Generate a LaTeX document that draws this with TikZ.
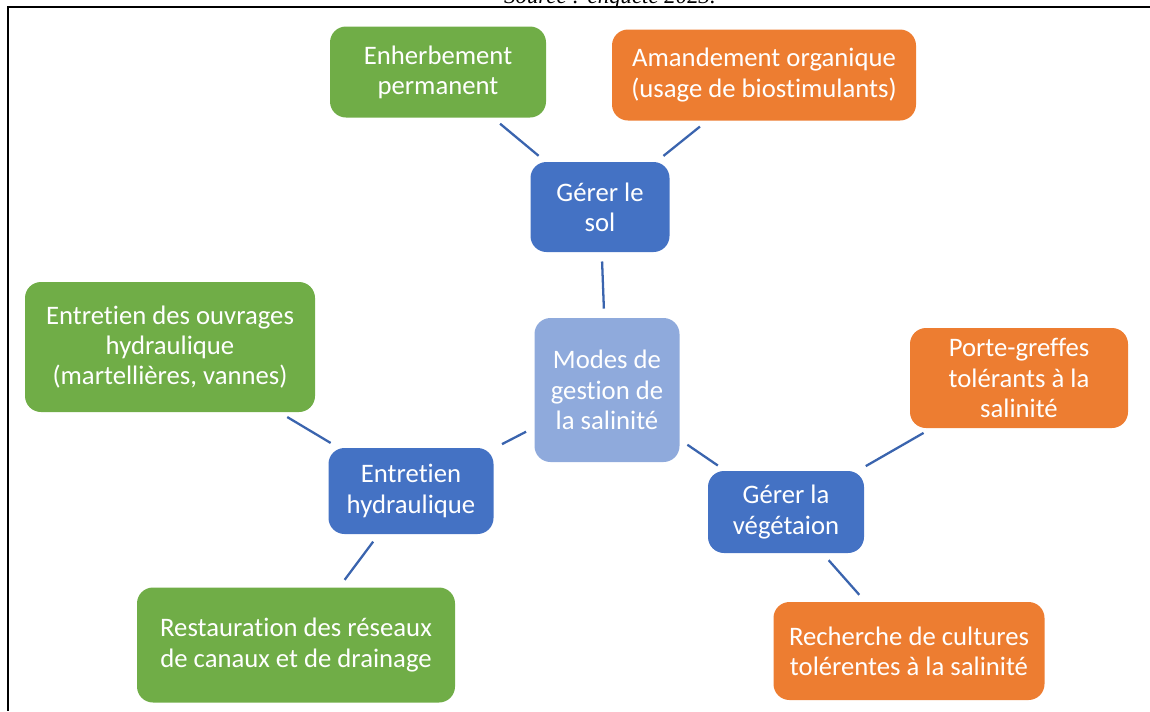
\documentclass[tikz,border=0pt]{standalone}
\usepackage{fontspec}
\setmainfont{Carlito}[Ligatures=NoCommon]
\newfontfamily\srcfont{Liberation Serif}
\definecolor{cgreen}{HTML}{70AD47}
\definecolor{corange}{HTML}{ED7D31}
\definecolor{cblue}{HTML}{4472C4}
\definecolor{clight}{HTML}{8FAADC}
\definecolor{cline}{HTML}{3A64AE}
\begin{document}
\begin{tikzpicture}[x=0.02cm,y=-0.02cm,
  box/.style={rounded corners=0.32cm,text=white,align=center,inner sep=0pt,font=\fontsize{15.2}{17.2}\selectfont},
  gbox/.style={box,fill=cgreen},
  obox/.style={box,fill=corange},
  bbox/.style={box,fill=cblue},
  lbox/.style={box,fill=clight},
  link/.style={draw=cline,line width=1.3pt,shorten >=4\pgflinewidth,shorten <=4\pgflinewidth}]
\useasboundingbox (0,0) rectangle (1150,711);
\node[font=\srcfont\itshape\fontsize{13}{15}\selectfont,anchor=base] (src) at (610,3) {Source : enquête 2023.};
\draw[line width=1.2pt] (1150,7) -- (8,7) -- (8,711);
\node[gbox,minimum width=216*0.02cm,minimum height=91*0.02cm] (enh) at (438,72) {Enherbement\\permanent};
\node[obox,minimum width=304*0.02cm,minimum height=91*0.02cm] (ama) at (764,75) {Amandement organique\\(usage de biostimulants)};
\node[bbox,minimum width=139*0.02cm,minimum height=90*0.02cm] (sol) at (600,207) {Gérer le\\sol};
\node[lbox,minimum width=145*0.02cm,minimum height=144*0.02cm] (mod) at (607,390) {Modes de\\gestion de\\la salinité};
\node[gbox,minimum width=290*0.02cm,minimum height=130*0.02cm] (ouv) at (170,347) {Entretien des ouvrages\\hydraulique\\(martellières, vannes)};
\node[bbox,minimum width=165*0.02cm,minimum height=86*0.02cm] (hyd) at (411,491) {Entretien\\hydraulique};
\node[obox,minimum width=218*0.02cm,minimum height=100*0.02cm] (por) at (1019,378) {Porte-greffes\\tolérants à la\\salinité};
\node[bbox,minimum width=156*0.02cm,minimum height=82*0.02cm] (veg) at (786,512) {Gérer la\\végétaion};
\node[gbox,minimum width=318*0.02cm,minimum height=115*0.02cm] (res) at (296,645) {Restauration des réseaux\\de canaux et de drainage};
\node[obox,minimum width=271*0.02cm,minimum height=98*0.02cm] (rec) at (909,651) {Recherche de cultures\\tolérentes à la salinité};
\draw[link] (enh) -- (sol);
\draw[link] (ama) -- (sol);
\draw[link] (sol) -- (mod);
\draw[link] (mod) -- (hyd);
\draw[link] (ouv) -- (hyd);
\draw[link] (hyd) -- (res);
\draw[link] (mod) -- (veg);
\draw[link] (por) -- (veg);
\draw[link] (veg) -- (rec);
\end{tikzpicture}
\end{document}
